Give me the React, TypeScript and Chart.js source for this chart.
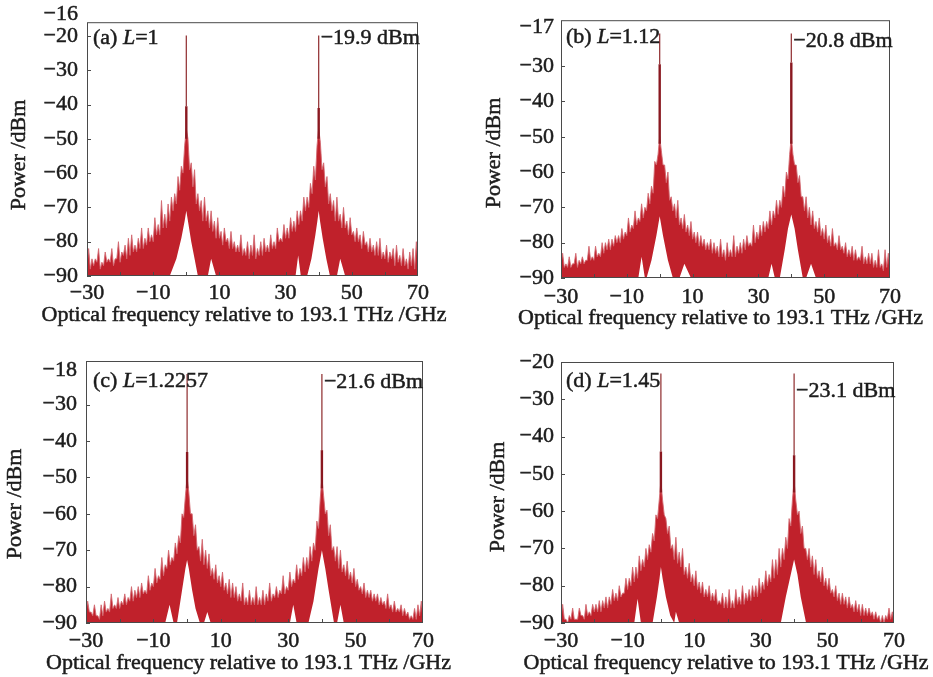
import React, { useEffect, useRef } from 'react';
import { Chart, registerables } from 'chart.js';

Chart.register(...registerables);

// frequency grid (GHz relative to 193.1 THz): trace valleys at integers, spike tips at half-integers
const FREQ_BODY = Array.from({ length: 101 }, (_, i) => -30 + i);
const FREQ_TIPS = Array.from({ length: 100 }, (_, i) => -29.5 + i);
const X_TICKS = [-30, -10, 10, 30, 50, 70];
const X_MINOR = [-20, -10, 0, 10, 20, 30, 40, 50, 60];
const X_TITLE = 'Optical frequency relative to 193.1 THz /GHz';
const Y_TITLE = 'Power /dBm';

// ---------- (a) L = 1 ----------
const aBody = [
  -87, -88, -87, -86, -88, -87, -86, -86, -87, -85,
  -86, -84, -85, -84, -83, -83, -82, -82, -81, -80,
  -80, -78, -78, -76, -76, -74, -71, -69, -65, -60,
  -47,
  -59, -64, -69, -71, -74, -74, -76, -77, -79, -79,
  -81, -80, -82, -82, -83, -83, -84, -84, -85, -84,
  -85, -84, -84, -83, -83, -82, -82, -80, -80, -79,
  -79, -77, -77, -75, -74, -71, -70, -66, -62, -47,
  -59, -64, -69, -71, -74, -74, -76, -76, -78, -78,
  -80, -80, -82, -81, -83, -83, -84, -84, -85, -85,
  -86, -85, -87, -86, -87, -87, -88, -87, -88, -87,
];
const aTips = [
  -82, -85, -85, -82, -86, -83, -85, -82, -85, -80,
  -83, -81, -79, -78, -81, -79, -76, -79, -76, -78,
  -73, -75, -68, -72, -69, -67, -66, -61, -58, -52,
  -50, -57, -59, -66, -68, -67, -71, -71, -74, -73,
  -77, -76, -79, -77, -80, -81, -78, -82, -80, -81,
  -78, -82, -80, -79, -81, -78, -80, -76, -79, -75,
  -76, -73, -74, -71, -71, -67, -67, -63, -58, -52,
  -51, -57, -61, -66, -68, -67, -72, -70, -74, -73,
  -77, -76, -78, -77, -80, -79, -81, -80, -79, -83,
  -81, -83, -82, -81, -84, -82, -85, -83, -82, -80,
];
const aLowF = [-30, -5, -3, -1.5, -0.5, 0, 0.5, 1.5, 2.5, 3.5, 6.5, 7.5, 9, 33, 33.8, 34.6, 36.5, 37.8, 39, 39.6, 40, 40.4, 41.2, 42.3, 43.4, 45.5, 46.5, 48, 70];
const aLowP = [-90, -90, -85, -79, -74, -71, -74, -80, -85, -90, -90, -85, -90, -90, -84, -90, -90, -85, -78, -74, -71, -74, -79, -85, -90, -90, -85, -90, -90];
const aCarF = [0, 40];
const aCarTop = [-19.9, -19.9];
const aCarShoulder = [-40.5, -41];
const aCarBase = [-50, -50];
const aYTicks = [-90, -80, -70, -60, -50, -40, -30, -20];

// ---------- (b) L = 1.12 ----------
const bBody = [
  -86, -87, -87, -87, -86, -87, -86, -86, -85, -85,
  -85, -84, -84, -83, -82, -82, -81, -80, -80, -79,
  -78, -77, -76, -75, -74, -73, -71, -69, -66, -58,
  -50,
  -58, -63, -68, -71, -73, -75, -76, -77, -78, -79,
  -80, -81, -81, -82, -82, -83, -83, -84, -84, -85,
  -84, -84, -84, -83, -83, -82, -81, -81, -80, -79,
  -78, -77, -76, -75, -73, -72, -70, -67, -62, -50,
  -58, -63, -67, -71, -73, -75, -76, -77, -78, -79,
  -80, -81, -81, -82, -82, -83, -84, -84, -85, -85,
  -85, -86, -86, -86, -87, -87, -87, -88, -87, -88,
];
const bTips = [
  -83, -86, -84, -86, -83, -85, -84, -85, -81, -84,
  -81, -83, -80, -80, -79, -79, -78, -78, -76, -77,
  -73, -75, -71, -73, -69, -70, -66, -64, -57, -55,
  -54, -58, -60, -67, -69, -68, -73, -72, -75, -74,
  -77, -77, -78, -79, -80, -79, -80, -81, -79, -82,
  -80, -82, -78, -81, -80, -79, -78, -80, -75, -77,
  -75, -74, -74, -71, -71, -68, -68, -64, -60, -55,
  -55, -58, -61, -67, -67, -70, -71, -74, -73, -76,
  -75, -78, -76, -80, -78, -81, -80, -82, -81, -82,
  -84, -81, -84, -83, -83, -85, -82, -86, -82, -83,
];
const bLowF = [-30, -6.5, -5.5, -4.5, -4, -2.5, -1, 0, 1, 2.5, 4, 6, 7.5, 9.5, 33, 34, 35, 36.5, 38, 39, 40, 41, 42, 43.5, 44.5, 46, 47.5, 70];
const bLowP = [-90, -90, -84, -90, -90, -85, -78, -72.5, -78, -85, -90, -90, -86, -90, -90, -86, -90, -90, -82, -76, -72, -76, -82, -90, -90, -86, -90, -90];
const bCarF = [0, 40];
const bCarTop = [-20.8, -20.8];
const bCarShoulder = [-29.5, -29];
const bCarBase = [-52, -52];
const bYTicks = [-90, -80, -70, -60, -50, -40, -30];

// ---------- (c) L = 1.2257 ----------
const cBody = [
  -87, -87, -88, -88, -89, -88, -87, -87, -86, -86,
  -86, -85, -85, -84, -84, -83, -83, -82, -82, -81,
  -80, -79, -78, -77, -75, -74, -73, -71, -68, -61,
  -50,
  -60, -66, -70, -73, -74, -75, -77, -78, -79, -80,
  -81, -82, -83, -83, -84, -84, -85, -85, -85, -85,
  -85, -85, -85, -84, -84, -83, -83, -82, -82, -81,
  -80, -79, -78, -77, -76, -75, -73, -70, -64, -50,
  -60, -66, -70, -73, -75, -76, -77, -78, -79, -80,
  -81, -82, -83, -83, -84, -84, -85, -85, -86, -86,
  -87, -87, -87, -88, -88, -89, -89, -89, -88, -89,
];
const cTips = [
  -84, -87, -85, -88, -85, -84, -86, -82, -85, -83,
  -84, -82, -83, -80, -81, -80, -79, -81, -77, -79,
  -75, -77, -72, -74, -70, -72, -68, -66, -60, -55,
  -54, -60, -63, -69, -67, -70, -71, -75, -74, -77,
  -76, -79, -78, -79, -80, -82, -79, -83, -81, -83,
  -80, -83, -81, -82, -79, -82, -80, -81, -77, -80,
  -76, -78, -74, -75, -72, -72, -69, -68, -62, -56,
  -55, -59, -63, -69, -69, -70, -74, -73, -76, -75,
  -78, -80, -79, -81, -81, -82, -82, -83, -84, -82,
  -85, -84, -86, -85, -86, -87, -88, -86, -85, -84,
];
const cLowF = [-30, -6.5, -5.2, -4, -3, -1.5, -0.5, 0, 0.5, 1.5, 2.5, 3.8, 5, 6, 7, 30.5, 31.5, 32.5, 36, 37.5, 39, 40, 41, 42, 43.6, 44.5, 45.5, 46.5, 70];
const cLowP = [-90, -90, -85, -90, -90, -81, -75, -72.7, -75, -81, -86, -90, -90, -87, -90, -90, -85, -90, -90, -84, -75, -70, -75, -81, -90, -90, -85, -90, -90];
const cCarF = [0, 40];
const cCarTop = [-21.6, -21.6];
const cCarShoulder = [-43, -42.5];
const cCarBase = [-53, -53];
const cYTicks = [-90, -80, -70, -60, -50, -40, -30];

// ---------- (d) L = 1.45 ----------
const dBody = [
  -89, -89, -90, -89, -89, -89, -88, -89, -88, -88,
  -87, -87, -87, -86, -86, -85, -84, -84, -83, -82,
  -81, -80, -79, -78, -76, -75, -73, -71, -68, -62,
  -52,
  -61, -66, -70, -73, -74, -75, -77, -78, -79, -80,
  -81, -82, -83, -83, -84, -84, -85, -85, -86, -86,
  -86, -86, -85, -85, -85, -84, -84, -83, -83, -82,
  -81, -80, -79, -78, -77, -75, -73, -70, -64, -52,
  -61, -66, -70, -73, -75, -77, -78, -79, -80, -81,
  -82, -83, -84, -85, -85, -86, -86, -87, -87, -88,
  -88, -88, -88, -89, -89, -90, -90, -89, -89, -90,
];
const dTips = [
  -85, -89, -88, -86, -89, -86, -88, -85, -87, -85,
  -85, -84, -84, -83, -83, -81, -82, -80, -82, -78,
  -78, -75, -75, -72, -73, -70, -69, -66, -61, -57,
  -57, -62, -64, -69, -67, -71, -70, -75, -74, -77,
  -76, -79, -79, -81, -80, -82, -81, -84, -82, -83,
  -81, -84, -81, -83, -80, -82, -81, -80, -80, -78,
  -79, -76, -77, -73, -73, -70, -70, -67, -62, -57,
  -57, -60, -64, -70, -70, -72, -73, -76, -75, -78,
  -78, -81, -80, -82, -82, -83, -83, -85, -84, -85,
  -85, -86, -86, -87, -87, -88, -88, -88, -86, -87,
];
const dLowF = [-30, -8, -7, -6, -2.5, -1.2, -0.4, 0, 0.5, 1.5, 2.8, 4, 4.5, 5.5, 36, 37.5, 39, 40, 41, 42, 43.6, 70];
const dLowP = [-90, -90, -83.5, -90, -90, -83, -78, -75, -78, -83, -88, -90, -87, -90, -90, -83, -77, -73, -77, -83, -90, -90];
const dCarF = [0, 40];
const dCarTop = [-23.1, -23.1];
const dCarShoulder = [-44, -45];
const dCarBase = [-55, -55];
const dYTicks = [-90, -80, -70, -60, -50, -40, -30, -20];

const FONT_FAMILY = '"Liberation Serif", "Times New Roman", serif';
const FONT_SIZE = 22;
const TEXT = '#1c1c1c';
const TEXT_STROKE = 0.5;
const MASS_FILL = '#c0212b';
const MASS_LINE = '#d36a72';

type PanelCfg = {
  left: number; top: number; w: number; h: number;
  yAxisW: number; xAxisH: number; padTop: number; padRight: number;
  yTickPad: number; xTickPad: number;
  yMax: number; yTicks: number[]; topLabel: string | null; topLabelY: number;
  yTitle: [number, number]; xTitle: [number, number];
  tag: string; lText: string; labelDx: number; labelDy: number;
  dbm: string; dbmDy: number;
  body: number[]; tips: number[]; lowF: number[]; lowP: number[];
  carF: number[]; carTop: number[]; carShoulder: number[]; carBase: number[];
};

const PANELS: PanelCfg[] = [
  {
    left: 0, top: 0, w: 466, h: 338, yAxisW: 87, xAxisH: 62, padTop: 17, padRight: 48,
    yTickPad: 9, xTickPad: 4, yMax: -16, yTicks: aYTicks, topLabel: '\u221216', topLabelY: 14,
    yTitle: [19, 155], xTitle: [244, 315], tag: '(a) ', lText: '=1', labelDx: 6, labelDy: 16,
    dbm: '\u221219.9 dBm', dbmDy: 16,
    body: aBody, tips: aTips, lowF: aLowF, lowP: aLowP,
    carF: aCarF, carTop: aCarTop, carShoulder: aCarShoulder, carBase: aCarBase,
  },
  {
    left: 466, top: 0, w: 467, h: 338, yAxisW: 95, xAxisH: 60, padTop: 18, padRight: 43,
    yTickPad: 7, xTickPad: 6, yMax: -17, yTicks: bYTicks, topLabel: '\u221217', topLabelY: 27,
    yTitle: [28, 153], xTitle: [254.5, 318], tag: '(b) ', lText: '=1.12', labelDx: 5, labelDy: 17,
    dbm: '\u221220.8 dBm', dbmDy: 21,
    body: bBody, tips: bTips, lowF: bLowF, lowP: bLowP,
    carF: bCarF, carTop: bCarTop, carShoulder: bCarShoulder, carBase: bCarBase,
  },
  {
    left: 0, top: 338, w: 466, h: 339, yAxisW: 86, xAxisH: 54, padTop: 23, padRight: 43,
    yTickPad: 9, xTickPad: 5, yMax: -18, yTicks: cYTicks, topLabel: '\u221218', topLabelY: 32,
    yTitle: [15, 166], xTitle: [248.5, 325], tag: '(c) ', lText: '=1.2257', labelDx: 7, labelDy: 20,
    dbm: '\u221221.6 dBm', dbmDy: 21,
    body: cBody, tips: cTips, lowF: cLowF, lowP: cLowP,
    carF: cCarF, carTop: cCarTop, carShoulder: cCarShoulder, carBase: cCarBase,
  },
  {
    left: 466, top: 338, w: 467, h: 339, yAxisW: 95, xAxisH: 54, padTop: 24, padRight: 39,
    yTickPad: 7, xTickPad: 5, yMax: -20, yTicks: dYTicks, topLabel: null, topLabelY: 0,
    yTitle: [32, 159], xTitle: [260, 325], tag: '(d) ', lText: '=1.45', labelDx: 5, labelDy: 19,
    dbm: '\u221223.1 dBm', dbmDy: 29,
    body: dBody, tips: dTips, lowF: dLowF, lowP: dLowP,
    carF: dCarF, carTop: dCarTop, carShoulder: dCarShoulder, carBase: dCarBase,
  },
];

const fmt = (v: number) => (v < 0 ? '\u2212' + Math.abs(v) : String(v));

function buildChart(canvas: HTMLCanvasElement, p: PanelCfg) {
  const mass: { x: number; y: number }[] = [];
  for (let i = 0; i < p.body.length; i++) {
    mass.push({ x: FREQ_BODY[i], y: p.body[i] });
    if (i < p.tips.length) mass.push({ x: FREQ_TIPS[i], y: p.tips[i] });
  }
  const low = p.lowF.map((f, i) => ({ x: f, y: p.lowP[i] }));

  const datasets: any[] = [
    {
      label: 'spectrum', data: mass, borderColor: MASS_LINE, backgroundColor: MASS_FILL,
      borderWidth: 0.9, fill: 'start', pointRadius: 0, tension: 0, order: 4,
    },
    {
      label: 'floor', data: low, borderColor: 'rgba(255,255,255,0)', backgroundColor: '#ffffff',
      borderWidth: 1, fill: 'start', pointRadius: 0, tension: 0, order: 3,
    },
  ];
  p.carF.forEach((f, i) => {
    datasets.push({
      label: 'carrier-base' + i, data: [{ x: f, y: p.carBase[i] }, { x: f, y: p.carShoulder[i] }],
      borderColor: '#8a1820', borderWidth: 2.4, fill: false, pointRadius: 0, order: 2,
    });
    datasets.push({
      label: 'carrier' + i, data: [{ x: f, y: p.carShoulder[i] }, { x: f, y: p.carTop[i] }],
      borderColor: '#8e2a2c', borderWidth: 1.2, fill: false, pointRadius: 0, order: 1,
    });
  });

  const font = { family: FONT_FAMILY, size: FONT_SIZE };
  const plainFont = `${FONT_SIZE}px ${FONT_FAMILY}`;
  const italicFont = `italic ${FONT_SIZE}px ${FONT_FAMILY}`;

  const decor = {
    id: 'decor',
    afterDraw(chart: any) {
      const { ctx, chartArea: a, scales } = chart;
      const xs = scales.x;
      const ys = scales.y;
      ctx.save();
      // frame
      ctx.strokeStyle = '#4a4a4a';
      ctx.lineWidth = 1;
      ctx.strokeRect(a.left + 0.5, a.top + 0.5, a.right - a.left - 1, a.bottom - a.top - 1);
      // inward tick marks
      ctx.beginPath();
      for (const v of p.yTicks) {
        const py = Math.round(ys.getPixelForValue(v)) + 0.5;
        ctx.moveTo(a.left, py);
        ctx.lineTo(a.left + 4, py);
      }
      for (const v of X_MINOR) {
        const px = Math.round(xs.getPixelForValue(v)) + 0.5;
        ctx.moveTo(px, a.bottom);
        ctx.lineTo(px, a.bottom - 4);
      }
      ctx.stroke();

      ctx.fillStyle = TEXT;
      ctx.strokeStyle = TEXT;
      ctx.lineWidth = TEXT_STROKE;
      const put = (s: string, x: number, y: number) => {
        ctx.fillText(s, x, y);
        ctx.strokeText(s, x, y);
      };
      ctx.font = plainFont;
      // top-of-axis label
      if (p.topLabel) {
        ctx.textAlign = 'right';
        ctx.textBaseline = 'middle';
        put(p.topLabel, a.left - p.yTickPad, p.topLabelY);
      }
      // axis titles
      ctx.save();
      ctx.translate(p.yTitle[0], p.yTitle[1]);
      ctx.rotate(-Math.PI / 2);
      ctx.textAlign = 'center';
      ctx.textBaseline = 'middle';
      put(Y_TITLE, 0, 0);
      ctx.restore();
      ctx.textAlign = 'center';
      ctx.textBaseline = 'middle';
      put(X_TITLE, p.xTitle[0], p.xTitle[1]);

      // panel label "(a) L=1"
      ctx.textAlign = 'left';
      ctx.textBaseline = 'middle';
      let x = a.left + p.labelDx;
      const y = a.top + p.labelDy;
      ctx.font = plainFont;
      put(p.tag, x, y);
      x += ctx.measureText(p.tag).width;
      ctx.font = italicFont;
      put('L', x, y);
      x += ctx.measureText('L').width;
      ctx.font = plainFont;
      put(p.lText, x, y);
      // carrier power label
      const px = xs.getPixelForValue(p.carF[1]) + 2;
      put(p.dbm, px, a.top + p.dbmDy);
      ctx.restore();
    },
  };

  const tickCommon = {
    font, color: TEXT, autoSkip: false,
    textStrokeColor: TEXT, textStrokeWidth: TEXT_STROKE,
    callback: (v: any) => fmt(Number(v)),
  };

  return new Chart(canvas, {
    type: 'line',
    data: { datasets },
    options: {
      animation: false,
      responsive: false,
      devicePixelRatio: 1,
      events: [],
      layout: { padding: { top: p.padTop, right: p.padRight, left: 0, bottom: 0 } },
      plugins: { legend: { display: false }, tooltip: { enabled: false } },
      scales: {
        x: {
          type: 'linear', min: -30, max: 70,
          grid: { display: false, drawTicks: false },
          border: { display: false },
          afterBuildTicks: (s: any) => { s.ticks = X_TICKS.map((v) => ({ value: v })); },
          afterFit: (s: any) => { s.height = p.xAxisH; },
          ticks: { ...tickCommon, padding: p.xTickPad, maxRotation: 0, minRotation: 0 },
        },
        y: {
          type: 'linear', min: -90, max: p.yMax,
          grid: { display: false, drawTicks: false },
          border: { display: false },
          afterBuildTicks: (s: any) => { s.ticks = p.yTicks.map((v) => ({ value: v })); },
          afterFit: (s: any) => { s.width = p.yAxisW; },
          ticks: { ...tickCommon, padding: p.yTickPad },
        },
      },
    } as any,
    plugins: [decor],
  });
}

function PanelChart({ p }: { p: PanelCfg }) {
  const ref = useRef<HTMLCanvasElement | null>(null);
  useEffect(() => {
    if (!ref.current) return;
    const chart = buildChart(ref.current, p);
    return () => chart.destroy();
  }, [p]);
  return (
    <canvas
      ref={ref}
      width={p.w}
      height={p.h}
      style={{ position: 'absolute', left: p.left, top: p.top, width: p.w, height: p.h }}
    />
  );
}

export default function App() {
  return (
    <div style={{ position: 'absolute', left: 0, top: 0, width: 933, height: 677, background: '#ffffff' }}>
      {PANELS.map((p, i) => (
        <PanelChart key={i} p={p} />
      ))}
    </div>
  );
}
